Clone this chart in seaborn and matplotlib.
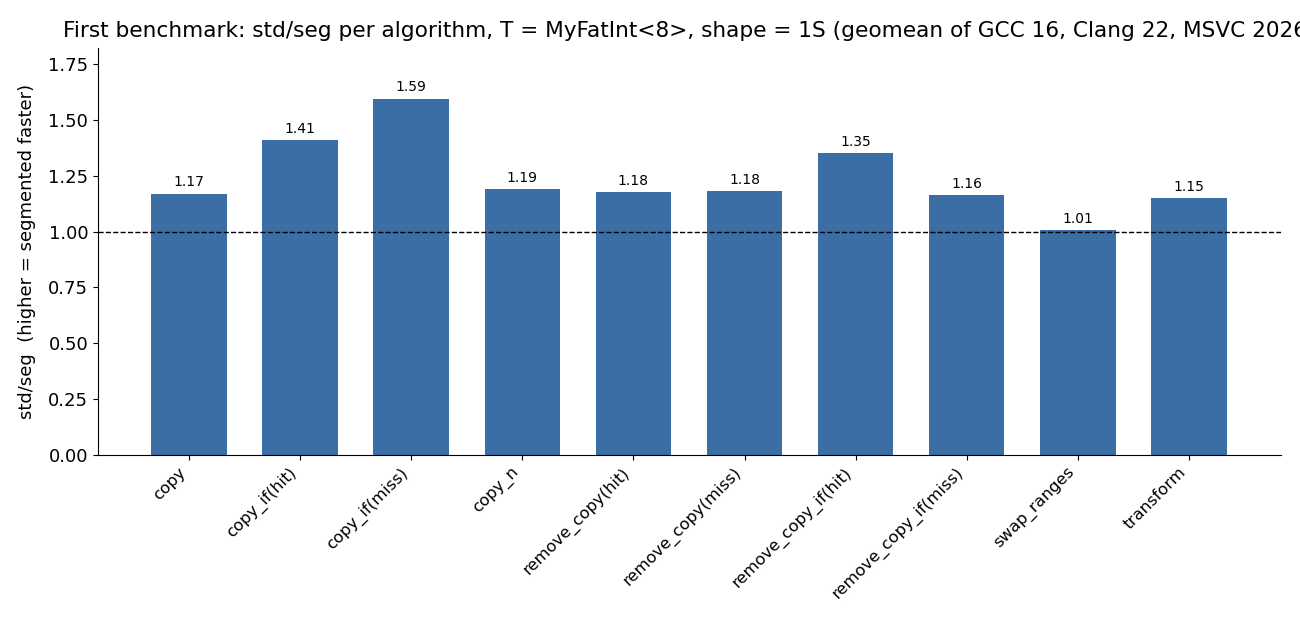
import matplotlib
matplotlib.use("Agg")
import matplotlib.pyplot as plt
import pandas as pd
import seaborn as sns

algorithms = ["copy", "copy_if(hit)", "copy_if(miss)", "copy_n", "remove_copy(hit)",
              "remove_copy(miss)", "remove_copy_if(hit)", "remove_copy_if(miss)",
              "swap_ranges", "transform"]
speedup = [1.17, 1.41, 1.594, 1.19, 1.176, 1.18, 1.35, 1.164, 1.006, 1.15]

df = pd.DataFrame({"algorithm": algorithms, "speedup": speedup})

plt.rcParams['font.family'] = ['DejaVu Sans']

fig = plt.figure(figsize=(13, 6.24), dpi=100)
ax = fig.add_axes([0.0754, 0.271, 0.9100, 0.652])

sns.barplot(data=df, x="algorithm", y="speedup", color="#3b6ea5", saturation=1,
            width=0.68, linewidth=0, ax=ax)

for i, v in enumerate(speedup):
    ax.text(i, v + 0.02, f"{v:.2f}", ha="center", va="bottom", fontsize=10)

ax.axhline(1.0, color="black", linestyle="--", linewidth=1)
ax.set_xlim(-0.82, 9.83)
ax.set_ylim(0, 1.822)
ax.set_xlabel("")
ax.set_ylabel("std/seg  (higher = segmented faster)", fontsize=13, labelpad=9)
ax.set_title("First benchmark: std/seg per algorithm, T = MyFatInt<8>, shape = 1S "
             "(geomean of GCC 16, Clang 22, MSVC 2026)", fontsize=15.6, pad=8)
ax.tick_params(axis="y", labelsize=13)
ax.tick_params(axis="x", labelsize=11.8)
plt.setp(ax.get_xticklabels(), rotation=45, ha="right")
sns.despine(ax=ax)

fig.savefig("out.png", dpi=100)
